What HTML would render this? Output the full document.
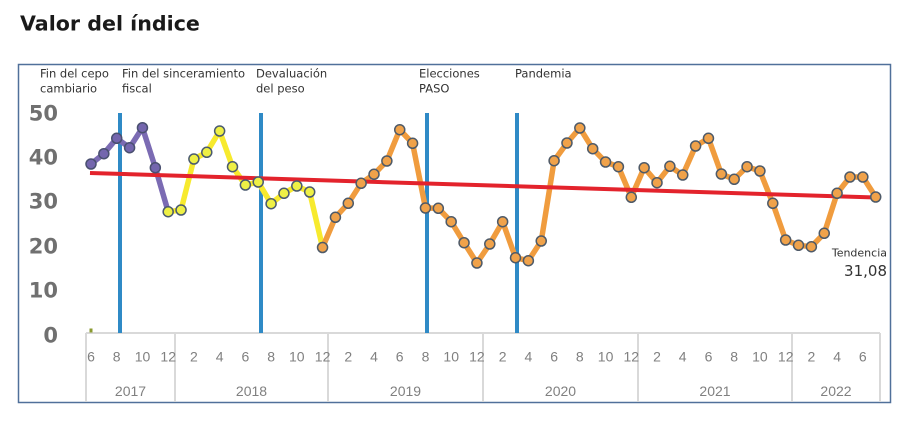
<!DOCTYPE html>
<html>
<head>
<meta charset="utf-8">
<style>
html,body{margin:0;padding:0;background:#fff;}
svg{display:block;}
</style>
</head>
<body>
<svg width="900" height="425" viewBox="0 0 900 425" xmlns="http://www.w3.org/2000/svg">
<rect x="0" y="0" width="900" height="425" fill="#ffffff"/>
<text x="20" y="30.5" font-family="DejaVu Sans, Liberation Sans, sans-serif" font-weight="bold" font-size="20.6" fill="#1a1a1a">Valor del índice</text>

<rect x="18.5" y="64.5" width="872" height="338" fill="none" stroke="#50709a" stroke-width="1.5"/>

<g font-family="DejaVu Sans, Liberation Sans, sans-serif" font-size="11.5" fill="#333">
<text x="40" y="77.5">Fin del cepo</text>
<text x="40" y="92.5">cambiario</text>
<text x="122" y="77.5">Fin del sinceramiento</text>
<text x="122" y="92.5">fiscal</text>
<text x="256" y="77.5">Devaluación</text>
<text x="256" y="92.5">del peso</text>
<text x="419" y="77.5">Elecciones</text>
<text x="419" y="92.5">PASO</text>
<text x="515" y="77.5">Pandemia</text>
</g>

<g font-family="DejaVu Sans, Liberation Sans, sans-serif" font-weight="bold" font-size="21" fill="#707070" text-anchor="end">
<text x="58" y="120.6">50</text>
<text x="58" y="164.6">40</text>
<text x="58" y="208.6">30</text>
<text x="58" y="253.6">20</text>
<text x="58" y="297.6">10</text>
<text x="58" y="342.6">0</text>
</g>

<g stroke="#d9d9d9" stroke-width="2" fill="none">
<line x1="86" y1="333" x2="880" y2="333"/>
<line x1="86" y1="333" x2="86" y2="402"/>
<line x1="175" y1="333" x2="175" y2="402"/>
<line x1="328" y1="333" x2="328" y2="402"/>
<line x1="483" y1="333" x2="483" y2="402"/>
<line x1="638" y1="333" x2="638" y2="402"/>
<line x1="792" y1="333" x2="792" y2="402"/>
<line x1="880" y1="333" x2="880" y2="402"/>
</g>

<g font-family="Liberation Sans, sans-serif" font-size="14" fill="#808080" text-anchor="middle">
<text x="91" y="361.7">6</text>
<text x="116.7" y="361.7">8</text>
<text x="142.5" y="361.7">10</text>
<text x="168.2" y="361.7">12</text>
<text x="193.9" y="361.7">2</text>
<text x="219.6" y="361.7">4</text>
<text x="245.4" y="361.7">6</text>
<text x="271.1" y="361.7">8</text>
<text x="296.8" y="361.7">10</text>
<text x="322.6" y="361.7">12</text>
<text x="348.3" y="361.7">2</text>
<text x="374" y="361.7">4</text>
<text x="399.7" y="361.7">6</text>
<text x="425.5" y="361.7">8</text>
<text x="451.2" y="361.7">10</text>
<text x="476.9" y="361.7">12</text>
<text x="502.7" y="361.7">2</text>
<text x="528.4" y="361.7">4</text>
<text x="554.1" y="361.7">6</text>
<text x="579.8" y="361.7">8</text>
<text x="605.6" y="361.7">10</text>
<text x="631.3" y="361.7">12</text>
<text x="657" y="361.7">2</text>
<text x="682.7" y="361.7">4</text>
<text x="708.5" y="361.7">6</text>
<text x="734.2" y="361.7">8</text>
<text x="759.9" y="361.7">10</text>
<text x="785.7" y="361.7">12</text>
<text x="811.4" y="361.7">2</text>
<text x="837.1" y="361.7">4</text>
<text x="862.8" y="361.7">6</text>
<text x="130.5" y="396">2017</text>
<text x="251.5" y="396">2018</text>
<text x="405.5" y="396">2019</text>
<text x="560.5" y="396">2020</text>
<text x="715" y="396">2021</text>
<text x="836" y="396">2022</text>
</g>

<rect x="89.5" y="328.5" width="3" height="4" fill="#8a9a30"/>

<g stroke="#2f8ac6" stroke-width="4">
<line x1="120" y1="113" x2="120" y2="333"/>
<line x1="261" y1="113" x2="261" y2="333"/>
<line x1="427" y1="113" x2="427" y2="333"/>
<line x1="517" y1="113" x2="517" y2="333"/>
</g>

<polyline fill="none" stroke="#7b6bb3" stroke-width="5.5" stroke-linejoin="round" points="91,164 103.86,153.7 116.73,138.3 129.59,147.7 142.46,127.7 155.32,167.7 168.18,211.7"/>
<polyline fill="none" stroke="#f7ea2e" stroke-width="5.5" stroke-linejoin="round" points="168.18,211.7 181.05,210 193.91,159 206.78,152.3 219.64,131 232.5,166.7 245.37,185 258.23,182 271.1,203.7 283.96,193.3 296.82,186 309.69,192 322.55,247.5"/>
<polyline fill="none" stroke="#f09c3e" stroke-width="5.5" stroke-linejoin="round" points="322.55,247.5 335.42,217.3 348.28,203.3 361.14,183.3 374.01,174.3 386.87,161 399.74,129.7 412.6,143.3 425.46,208 438.33,208.3 451.19,221.7 464.06,242.7 476.92,263 489.78,244 502.65,221.7 515.51,257.7 528.38,260.7 541.24,241 554.1,160.7 566.97,143 579.83,128 592.7,148.7 605.56,162 618.42,166.7 631.29,197.3 644.15,167.7 657.02,182.7 669.88,166.3 682.74,175 695.61,146 708.47,138.3 721.34,174 734.2,179.3 747.06,166.7 759.93,171 772.79,203.3 785.66,240 798.52,245.3 811.38,246.7 824.25,233.3 837.11,193.3 849.98,177 862.84,177 875.7,197"/>

<line x1="90" y1="173" x2="876" y2="197.5" stroke="#e3232c" stroke-width="4"/>

<g stroke="#4a5070" stroke-width="1.5" fill="#7466ae">
<circle cx="91" cy="164" r="5"/>
<circle cx="103.86" cy="153.7" r="5"/>
<circle cx="116.73" cy="138.3" r="5"/>
<circle cx="129.59" cy="147.7" r="5"/>
<circle cx="142.46" cy="127.7" r="5"/>
<circle cx="155.32" cy="167.7" r="5"/>
</g>
<g stroke="#4a5a70" stroke-width="1.5" fill="#eef045">
<circle cx="168.18" cy="211.7" r="5"/>
<circle cx="181.05" cy="210" r="5"/>
<circle cx="193.91" cy="159" r="5"/>
<circle cx="206.78" cy="152.3" r="5"/>
<circle cx="219.64" cy="131" r="5"/>
<circle cx="232.5" cy="166.7" r="5"/>
<circle cx="245.37" cy="185" r="5"/>
<circle cx="258.23" cy="182" r="5"/>
<circle cx="271.1" cy="203.7" r="5"/>
<circle cx="283.96" cy="193.3" r="5"/>
<circle cx="296.82" cy="186" r="5"/>
<circle cx="309.69" cy="192" r="5"/>
</g>
<g stroke="#4e5a68" stroke-width="1.5" fill="#f0a24a">
<circle cx="322.55" cy="247.5" r="5"/>
<circle cx="335.42" cy="217.3" r="5"/>
<circle cx="348.28" cy="203.3" r="5"/>
<circle cx="361.14" cy="183.3" r="5"/>
<circle cx="374.01" cy="174.3" r="5"/>
<circle cx="386.87" cy="161" r="5"/>
<circle cx="399.74" cy="129.7" r="5"/>
<circle cx="412.6" cy="143.3" r="5"/>
<circle cx="425.46" cy="208" r="5"/>
<circle cx="438.33" cy="208.3" r="5"/>
<circle cx="451.19" cy="221.7" r="5"/>
<circle cx="464.06" cy="242.7" r="5"/>
<circle cx="476.92" cy="263" r="5"/>
<circle cx="489.78" cy="244" r="5"/>
<circle cx="502.65" cy="221.7" r="5"/>
<circle cx="515.51" cy="257.7" r="5"/>
<circle cx="528.38" cy="260.7" r="5"/>
<circle cx="541.24" cy="241" r="5"/>
<circle cx="554.1" cy="160.7" r="5"/>
<circle cx="566.97" cy="143" r="5"/>
<circle cx="579.83" cy="128" r="5"/>
<circle cx="592.7" cy="148.7" r="5"/>
<circle cx="605.56" cy="162" r="5"/>
<circle cx="618.42" cy="166.7" r="5"/>
<circle cx="631.29" cy="197.3" r="5"/>
<circle cx="644.15" cy="167.7" r="5"/>
<circle cx="657.02" cy="182.7" r="5"/>
<circle cx="669.88" cy="166.3" r="5"/>
<circle cx="682.74" cy="175" r="5"/>
<circle cx="695.61" cy="146" r="5"/>
<circle cx="708.47" cy="138.3" r="5"/>
<circle cx="721.34" cy="174" r="5"/>
<circle cx="734.2" cy="179.3" r="5"/>
<circle cx="747.06" cy="166.7" r="5"/>
<circle cx="759.93" cy="171" r="5"/>
<circle cx="772.79" cy="203.3" r="5"/>
<circle cx="785.66" cy="240" r="5"/>
<circle cx="798.52" cy="245.3" r="5"/>
<circle cx="811.38" cy="246.7" r="5"/>
<circle cx="824.25" cy="233.3" r="5"/>
<circle cx="837.11" cy="193.3" r="5"/>
<circle cx="849.98" cy="177" r="5"/>
<circle cx="862.84" cy="177" r="5"/>
<circle cx="875.7" cy="197" r="5"/>
</g>

<g font-family="DejaVu Sans, Liberation Sans, sans-serif" fill="#333" text-anchor="end">
<text x="887" y="256.5" font-size="11">Tendencia</text>
<text x="887" y="276" font-size="15">31,08</text>
</g>
</svg>
</body>
</html>
